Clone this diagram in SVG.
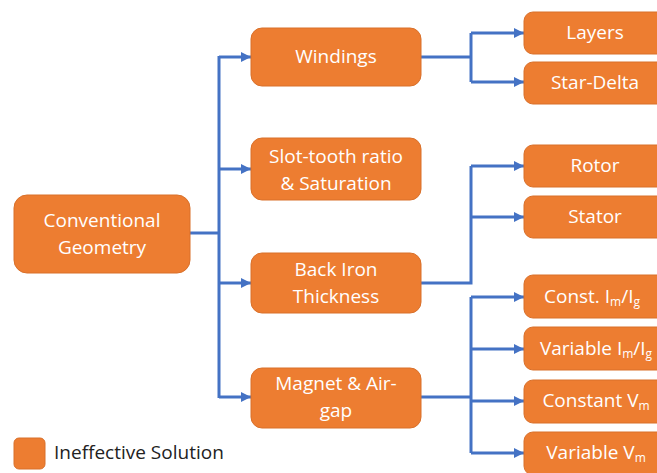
<svg xmlns="http://www.w3.org/2000/svg" width="657" height="473" viewBox="0 0 657 473">
<defs>
<style>
.box{fill:#ED7D31;stroke:#D9702A;stroke-width:1}
.t{font-family:"Open Sans","Noto Sans",sans-serif;font-size:19px;fill:#fff;text-anchor:middle;dominant-baseline:central}
.lg{font-family:"Open Sans","Noto Sans",sans-serif;font-size:19px;fill:#222;dominant-baseline:central}
.c{fill:none;stroke:#4472C4;stroke-width:3}
.sub{font-size:12px}
</style>
<marker id="ah" viewBox="0 0 10 10" refX="10" refY="5" markerWidth="10" markerHeight="10" markerUnits="userSpaceOnUse" orient="auto">
<path d="M0,0 L10,5 L0,10 z" fill="#4472C4"/>
</marker>
</defs>
<g id="connectors">
<path class="c" d="M190,233 H219"/>
<path class="c" d="M219,398 V56"/>
<path class="c" d="M219,57 H251" marker-end="url(#ah)"/>
<path class="c" d="M219,169 H251" marker-end="url(#ah)"/>
<path class="c" d="M219,283 H251" marker-end="url(#ah)"/>
<path class="c" d="M219,397 H251" marker-end="url(#ah)"/>
<path class="c" d="M421,57 H471"/>
<path class="c" d="M471,82 V33"/>
<path class="c" d="M471,33 H524" marker-end="url(#ah)"/>
<path class="c" d="M471,82 H524" marker-end="url(#ah)"/>
<path class="c" d="M421,283 H471 V166"/>
<path class="c" d="M471,166 H524" marker-end="url(#ah)"/>
<path class="c" d="M471,217 H524" marker-end="url(#ah)"/>
<path class="c" d="M421,397 H471"/>
<path class="c" d="M471,453 V297"/>
<path class="c" d="M471,297 H524" marker-end="url(#ah)"/>
<path class="c" d="M471,349 H524" marker-end="url(#ah)"/>
<path class="c" d="M471,401 H524" marker-end="url(#ah)"/>
<path class="c" d="M471,453 H524" marker-end="url(#ah)"/>
</g>
<g id="conventional">
<rect class="box" x="14" y="195" width="176" height="78" rx="13"/>
<text class="t" x="102" y="220">Conventional</text>
<text class="t" x="102" y="247">Geometry</text>
</g>
<g id="windings">
<rect class="box" x="251" y="28" width="170" height="58" rx="11"/>
<text class="t" x="336" y="56">Windings</text>
</g>
<g id="slottooth">
<rect class="box" x="251" y="138" width="170" height="62" rx="11"/>
<text class="t" x="336" y="156">Slot-tooth ratio</text>
<text class="t" x="336" y="183">&amp; Saturation</text>
</g>
<g id="backiron">
<rect class="box" x="251" y="253" width="170" height="60" rx="11"/>
<text class="t" x="336" y="269">Back Iron</text>
<text class="t" x="336" y="296">Thickness</text>
</g>
<g id="magnet">
<rect class="box" x="251" y="368" width="170" height="60" rx="11"/>
<text class="t" x="336" y="383">Magnet &amp; Air-</text>
<text class="t" x="336" y="410">gap</text>
</g>
<g id="layers">
<rect class="box" x="524" y="12" width="144" height="42" rx="9"/>
<text class="t" x="595" y="32">Layers</text>
</g>
<g id="stardelta">
<rect class="box" x="524" y="62" width="144" height="42" rx="9"/>
<text class="t" x="595" y="82">Star-Delta</text>
</g>
<g id="rotor">
<rect class="box" x="524" y="145" width="144" height="42" rx="9"/>
<text class="t" x="595" y="165">Rotor</text>
</g>
<g id="stator">
<rect class="box" x="524" y="196" width="144" height="42" rx="9"/>
<text class="t" x="595" y="216">Stator</text>
</g>
<g id="constimig">
<rect class="box" x="524" y="275" width="144" height="43" rx="9"/>
<text class="t" x="592" y="296">Const. I<tspan class="sub" dy="5">m</tspan><tspan dy="-5">/I</tspan><tspan class="sub" dy="5">g</tspan></text>
</g>
<g id="varimig">
<rect class="box" x="524" y="327" width="144" height="43" rx="9"/>
<text class="t" x="596" y="348">Variable I<tspan class="sub" dy="5">m</tspan><tspan dy="-5">/I</tspan><tspan class="sub" dy="5">g</tspan></text>
</g>
<g id="constvm">
<rect class="box" x="524" y="380" width="144" height="43" rx="9"/>
<text class="t" x="596" y="400">Constant V<tspan class="sub" dy="5">m</tspan></text>
</g>
<g id="varvm">
<rect class="box" x="524" y="432" width="144" height="43" rx="9"/>
<text class="t" x="596" y="452">Variable V<tspan class="sub" dy="5">m</tspan></text>
</g>
<g id="legend">
<rect class="box" x="14" y="438" width="31" height="31" rx="5"/>
<text class="lg" x="54" y="452">Ineffective Solution</text>
</g>
</svg>
